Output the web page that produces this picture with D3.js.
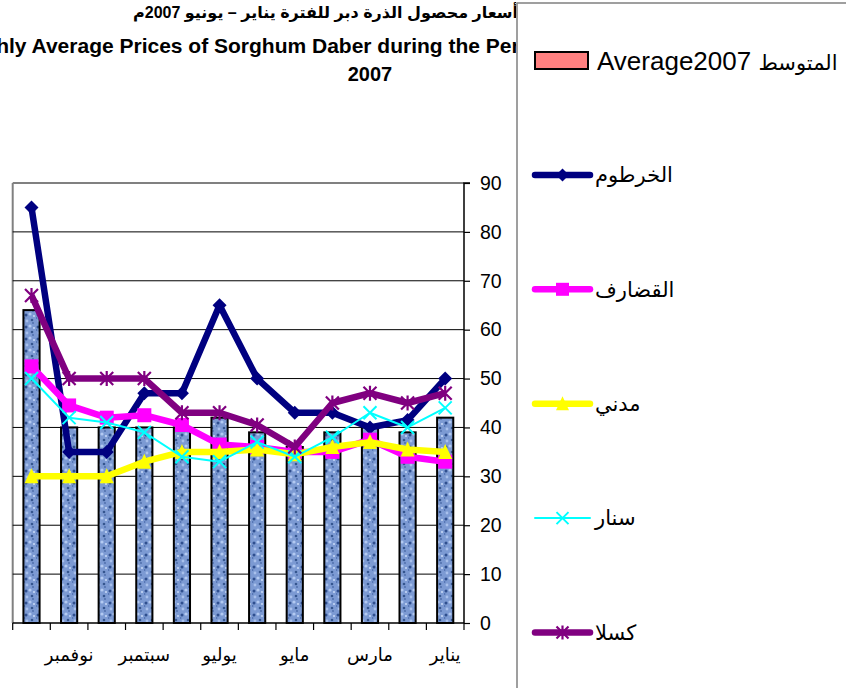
<!DOCTYPE html>
<html><head><meta charset="utf-8">
<script src="https://cdn.jsdelivr.net/npm/d3@7"></script>
<style>body{margin:0;background:#fff}svg{display:block}</style>
</head><body>
<svg id="c" width="846" height="688"></svg>
<script>
// ---- data (Jan..Dec) ----
const months = ["يناير","فبراير","مارس","أبريل","مايو","يونيو","يوليو","أغسطس","سبتمبر","أكتوبر","نوفمبر","ديسمبر"];
const shownMonths = ["يناير","مارس","مايو","يوليو","سبتمبر","نوفمبر"];
const average2007 = [42, 39, 40, 39, 36, 39, 42, 40, 40, 40, 40, 64];
const khartoum = [50, 41.5, 40, 43, 43, 50, 65, 47, 47, 35, 35, 85];
const gedaref  = [33, 34, 37.5, 35, 35, 36, 36.5, 40.5, 42.5, 42, 44.5, 52.5];
const madani   = [35, 35.5, 37, 36, 34.5, 35.5, 35, 35, 33, 30, 30, 30];
const sennar   = [44, 40, 43, 38, 34, 37, 33, 34, 39, 41, 42, 50];
const kassala  = [47, 45, 47, 45, 36, 40.5, 43, 43, 50, 50, 50, 67];
const yTicks = [0,10,20,30,40,50,60,70,80,90];
const seriesNames = ["الخرطوم","القضارف","مدني","سنار","كسلا"];
const barNameEn = "Average2007";
const barNameAr = "المتوسط";
const titleAr = "متوسط أسعار محصول الذرة  دبر للفترة يناير – يونيو 2007م";
const titleEn1 = "Monthly Average Prices of Sorghum Daber during the Period January – June";
const titleEn2 = "2007";

const series = [
  {name: seriesNames[0], values: khartoum, color: "#000080", width: 6.5, marker: "diamond"},
  {name: seriesNames[1], values: gedaref,  color: "#FF00FF", width: 6.5, marker: "square"},
  {name: seriesNames[2], values: madani,   color: "#FFFF00", width: 6.5, marker: "triangle"},
  {name: seriesNames[3], values: sennar,   color: "#00FFFF", width: 2, marker: "x"},
  {name: seriesNames[4], values: kassala,  color: "#800080", width: 6.5, marker: "star"}
];

const svg = d3.select("#c");
const FONT = "'Liberation Sans', Arial, 'DejaVu Sans', sans-serif";

const defs = svg.append("defs");
// clip for the title (legend box hides the rest)
defs.append("clipPath").attr("id","titleClip").append("rect").attr("x",0).attr("y",0).attr("width",516).attr("height",100);
// pattern for bars
const pat = defs.append("pattern").attr("id","marble").attr("patternUnits","userSpaceOnUse")
  .attr("width",12).attr("height",12);
pat.append("rect").attr("width",12).attr("height",12).attr("fill","#7c9ad3");
[[2,3,1.5,"#2f4f8f"],[8,8,1.3,"#35568f"],[6,2,1.6,"#b3caf2"],[3,9,1.4,"#a8c0ec"],[10,4,1.1,"#c4d6f5"],[9,11,0.9,"#4a6aa8"],[0.5,6,1,"#5576b5"]]
  .forEach(([px,py,r,f])=>pat.append("circle").attr("cx",px).attr("cy",py).attr("r",r).attr("fill",f));

// scales
const pLeft = 12.7, pRight = 464, pTop = 183, pBottom = 623;
const x = d3.scaleBand().domain(months.slice().reverse()).range([pLeft, pRight]).padding(0);
const y = d3.scaleLinear().domain([0, 90]).range([pBottom, pTop]);
const cx = m => x(m) + x.bandwidth()/2;

// titles
const tg = svg.append("g").attr("clip-path","url(#titleClip)");
const tAr = tg.append("text").attr("y", 18).attr("font-family", FONT).attr("font-weight","bold")
  .attr("font-size", 16).attr("direction","rtl").attr("text-anchor","middle").text(titleAr);
const arLen = tAr.node().getComputedTextLength();
tAr.attr("x", 133 + arLen/2);
tg.append("text").attr("x", -54).attr("y", 53).attr("font-family", FONT).attr("font-weight","bold")
  .attr("font-size", 21).attr("text-anchor","start").text(titleEn1);
svg.append("text").attr("x", 370).attr("y", 81).attr("font-family", FONT).attr("font-weight","bold")
  .attr("font-size", 20).attr("text-anchor","middle").text(titleEn2);

// plot frame and gridlines
svg.append("line").attr("x1", pLeft).attr("x2", pLeft).attr("y1", pTop).attr("y2", pBottom).attr("stroke","#808080").attr("stroke-width",2);
svg.append("line").attr("x1", pLeft).attr("x2", pRight).attr("y1", pTop).attr("y2", pTop).attr("stroke","#808080").attr("stroke-width",2);
svg.append("g").selectAll("line").data(yTicks.filter(t=>t>0 && t<90)).join("line")
  .attr("x1", pLeft).attr("x2", pRight).attr("y1", d=>y(d)).attr("y2", d=>y(d))
  .attr("stroke","#000").attr("stroke-width",1);

// bars
const bw = x.bandwidth()*0.43;
svg.append("g").selectAll("rect").data(months).join("rect")
  .attr("x", (m)=>cx(m)-bw/2).attr("width", bw)
  .attr("y", (m,i)=>y(average2007[i])).attr("height", (m,i)=>pBottom - y(average2007[i]))
  .attr("fill","url(#marble)").attr("stroke","#000").attr("stroke-width",2);

// axes
const yAxis = svg.append("g").attr("transform",`translate(${pRight},0)`)
  .call(d3.axisRight(y).tickValues(yTicks).tickSize(6).tickPadding(10).tickFormat(d3.format("d")));
yAxis.select(".domain").attr("stroke","#000").attr("stroke-width",1.5).attr("d", `M6,${pTop}H0V${pBottom}`);
yAxis.selectAll(".tick line").attr("stroke","#000").attr("stroke-width",1.2);
yAxis.selectAll(".tick text").attr("font-family", FONT).attr("font-size", 19.5).attr("fill","#000");

const xAxis = svg.append("g").attr("transform",`translate(0,${pBottom})`)
  .call(d3.axisBottom(x).tickSize(0).tickPadding(25).tickFormat(m => shownMonths.includes(m) ? m : ""));
xAxis.select(".domain").attr("stroke","#000").attr("stroke-width",1.5).attr("d", `M${pLeft},0H${pRight}`);
xAxis.selectAll(".tick text").attr("font-family", FONT).attr("font-size", 18).attr("fill","#000");
// boundary ticks
const bounds = months.slice().reverse().map(m=>x(m)).concat([pRight]);
svg.append("g").selectAll("line").data(bounds).join("line")
  .attr("x1", d=>d).attr("x2", d=>d).attr("y1", pBottom).attr("y2", pBottom+7)
  .attr("stroke","#000").attr("stroke-width",1.2);

// markers
function drawMarker(g, type, color, px, py, s) {
  const h = s/2;
  if (type === "diamond") g.append("path").attr("d", `M${px},${py-h}L${px+h},${py}L${px},${py+h}L${px-h},${py}Z`).attr("fill", color);
  else if (type === "square") g.append("rect").attr("x", px-h).attr("y", py-h).attr("width", s).attr("height", s).attr("fill", color);
  else if (type === "triangle") g.append("path").attr("d", `M${px},${py-h-1}L${px+h},${py+h}L${px-h},${py+h}Z`).attr("fill", color);
  else if (type === "x") g.append("path").attr("d", `M${px-h},${py-h}L${px+h},${py+h}M${px-h},${py+h}L${px+h},${py-h}`).attr("stroke", color).attr("stroke-width", 2);
  else if (type === "star") g.append("path").attr("d", `M${px-h},${py-h}L${px+h},${py+h}M${px-h},${py+h}L${px+h},${py-h}M${px},${py-h-1}L${px},${py+h+1}`).attr("stroke", color).attr("stroke-width", 2.2);
}

const line = d3.line().x((v,i)=>cx(months[i])).y(v=>y(v));
series.forEach(s => {
  const g = svg.append("g");
  g.append("path").attr("d", line(s.values)).attr("fill","none").attr("stroke", s.color)
    .attr("stroke-width", s.width).attr("stroke-linejoin","round");
  s.values.forEach((v,i)=>drawMarker(g, s.marker, s.color, cx(months[i]), y(v), s.marker==="x"||s.marker==="star"?13:14));
});

// legend box
svg.append("rect").attr("x", 517).attr("y", 3).attr("width", 340).attr("height", 700)
  .attr("fill","#fff").attr("stroke","#808080").attr("stroke-width",1.5);
const ly0 = 60.5, lstep = 114.4;
const lg = svg.append("g");
lg.append("rect").attr("x", 535).attr("y", ly0-8.5).attr("width", 53).attr("height", 17)
  .attr("fill","#FF8080").attr("stroke","#000").attr("stroke-width",2);
const lt = lg.append("text").attr("x", 597).attr("y", ly0).attr("dy","0.35em").attr("font-family", FONT).attr("font-size", 26);
lt.append("tspan").text(barNameEn + " ");
lt.append("tspan").attr("font-size", 21).text(barNameAr);
series.forEach((s,i)=>{
  const yy = ly0 + (i+1)*lstep;
  lg.append("line").attr("x1", 535).attr("x2", 590).attr("y1", yy).attr("y2", yy)
    .attr("stroke", s.color).attr("stroke-width", s.width).attr("stroke-linecap","round");
  drawMarker(lg, s.marker, s.color, 562.5, yy, s.marker==="x"||s.marker==="star"?12:13);
  lg.append("text").attr("x", 595).attr("y", yy).attr("dy","0.35em").attr("font-family", FONT)
    .attr("font-size", 21).text(s.name);
});
</script>
</body></html>
